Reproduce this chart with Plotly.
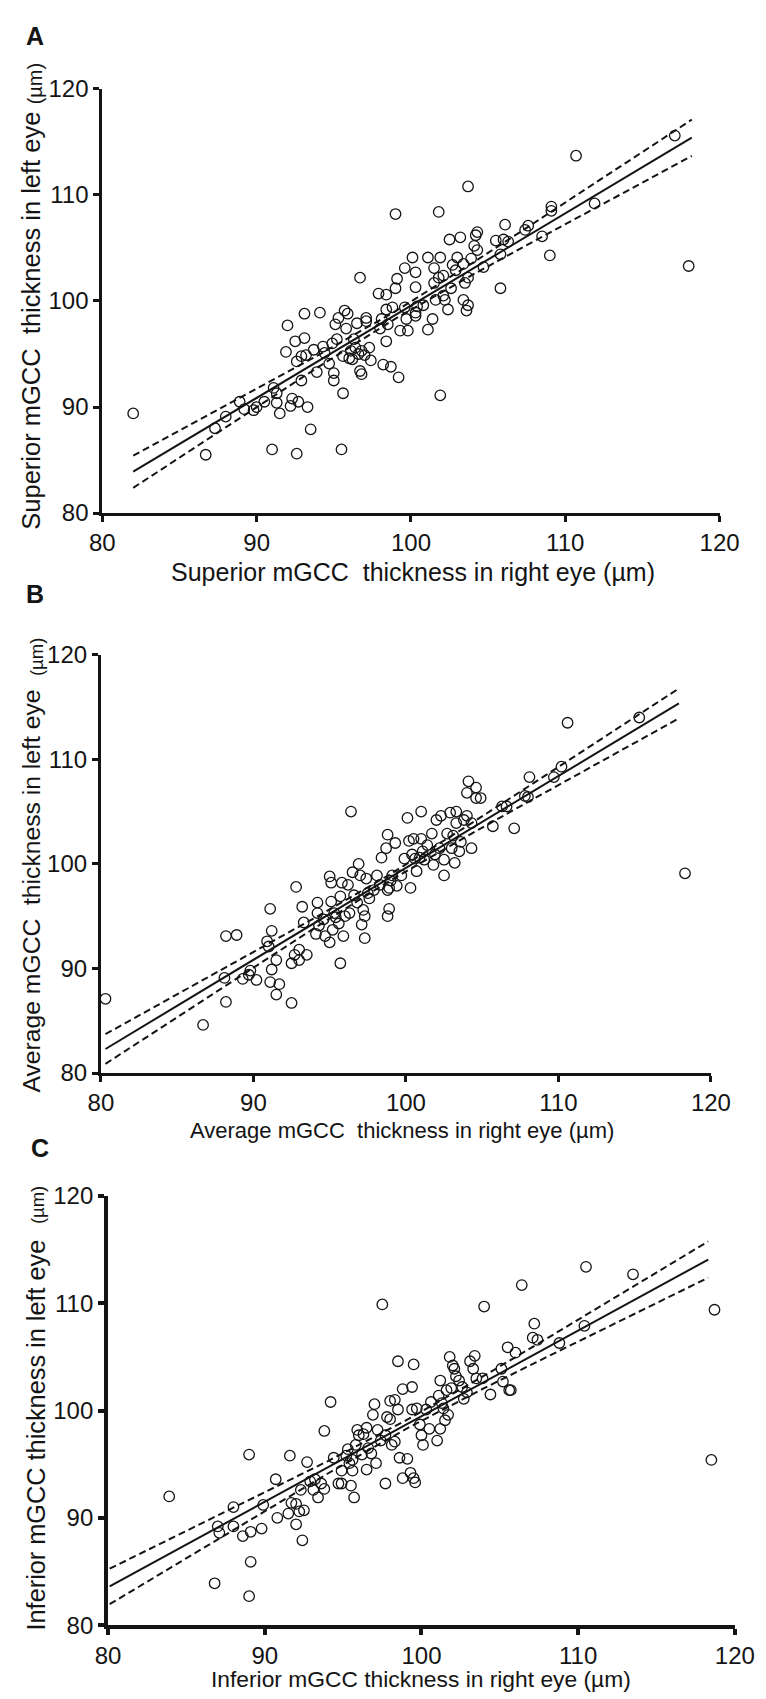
import plotly.graph_objects as go

# ---------------- data ----------------
# Panel A: Superior mGCC
a_right = [82.0, 86.7, 87.3, 88.0, 88.9, 89.2, 89.8, 90.0, 90.5, 91.1, 91.3, 91.3, 91.5, 91.0, 91.9, 92.0,
           92.2, 92.3, 92.6, 92.5, 92.6, 92.7, 92.9, 93.1, 93.1, 92.9, 93.2, 93.3, 93.5, 93.7, 93.9, 94.1,
           94.3, 94.4, 94.7, 95.0, 95.0, 94.9, 95.1, 95.2, 95.3, 95.5, 95.6, 95.6, 95.7, 95.8, 95.9, 96.1,
           96.2, 96.3, 96.5, 96.7, 96.7, 96.8, 96.8, 97.1, 97.1, 97.3, 97.4, 97.9, 98.0, 98.1, 98.2, 98.4,
           98.4, 98.4, 98.5, 98.7, 98.8, 99.0, 99.0, 99.1, 99.2, 99.3, 99.6, 99.6, 99.7, 99.8, 100.1, 100.3,
           100.3, 100.3, 100.4, 101.1, 101.1, 101.4, 101.5, 101.5, 101.6, 101.8, 101.9, 101.9, 101.8, 102.1,
           102.1, 102.2, 102.4, 102.5, 102.6, 102.7, 102.9, 103.0, 103.2, 103.4, 103.4, 103.5, 103.6, 103.7,
           103.7, 103.7, 103.9, 104.1, 104.2, 104.3, 104.3, 104.7, 105.5, 105.8, 105.8, 106.0, 106.1, 106.3,
           107.4, 107.6, 108.5, 109.0, 109.1, 109.1, 110.7, 111.9, 117.1, 118.0, 96.0, 96.6, 97.0, 96.4,
           100.3, 100.8]
a_left = [89.4, 85.5, 88.0, 89.1, 90.5, 89.8, 89.7, 90.0, 90.5, 91.8, 90.4, 91.3, 89.4, 86.0, 95.2, 97.7,
          90.1, 90.8, 85.6, 96.2, 94.3, 90.5, 92.5, 98.8, 96.5, 94.8, 94.9, 90.0, 87.9, 95.4, 93.3, 98.9,
          95.7, 95.1, 94.1, 93.2, 92.5, 96.0, 97.8, 96.4, 98.4, 86.0, 91.3, 94.8, 99.1, 97.4, 98.8, 95.3,
          94.5, 96.4, 97.9, 102.2, 93.4, 95.3, 93.1, 98.1, 98.4, 95.6, 94.4, 100.7, 97.4, 98.3, 94.0, 100.6,
          96.2, 99.2, 97.8, 93.8, 99.4, 108.2, 101.2, 102.1, 92.8, 97.2, 103.1, 99.4, 98.3, 97.2, 104.1, 101.3,
          102.7, 98.9, 99.5, 104.1, 97.3, 98.3, 101.7, 103.1, 100.1, 108.4, 91.1, 104.1, 102.2, 102.4,
          100.5, 100.1, 99.2, 105.8, 101.2, 103.4, 102.9, 104.1, 106.0, 103.5, 100.1, 101.7, 99.1, 110.8,
          102.2, 99.6, 104.0, 105.2, 106.2, 104.8, 106.5, 103.2, 105.7, 104.4, 101.2, 105.8, 107.2, 105.6,
          106.7, 107.1, 106.1, 104.3, 108.9, 108.5, 113.7, 109.2, 115.6, 103.3, 94.6, 95.0, 94.9, 95.6,
          98.6, 99.6]
a_fit_x = [82.0, 118.2]
a_fit_y = [83.9, 115.4]
a_ci_x = [82, 86, 90, 94, 99, 104, 108, 113, 118.2]
a_ci_up = [85.42, 88.56, 91.72, 94.90, 99.04, 103.60, 107.38, 112.14, 117.10]
a_ci_lo = [82.38, 86.20, 90.00, 93.78, 98.34, 102.48, 105.66, 109.60, 113.68]

# Panel B: Average mGCC
b_right = [80.3, 86.7, 88.1, 88.2, 88.2, 88.9, 89.3, 89.7, 89.8, 90.2, 90.9, 91.0, 91.1, 91.1, 91.2, 91.2,
           91.5, 91.5, 91.7, 92.5, 92.5, 92.7, 92.8, 93.0, 93.0, 93.2, 93.3, 93.5, 94.1, 94.2, 94.2, 94.3,
           94.7, 95.0, 95.0, 95.1, 95.1, 95.2, 95.3, 95.6, 95.7, 95.7, 95.8, 95.9, 96.0, 96.2, 96.3, 96.4,
           96.5, 96.6, 96.9, 97.0, 97.1, 97.2, 97.3, 97.3, 97.4, 97.6, 97.9, 98.1, 98.4, 98.7, 98.8, 98.8,
           98.8, 98.9, 98.9, 99.1, 99.3, 99.4, 99.7, 99.9, 100.1, 100.2, 100.3, 100.4, 100.5, 100.6, 100.7,
           101.0, 101.0, 101.1, 101.2, 101.4, 101.7, 101.8, 101.9, 102.0, 102.2, 102.3, 102.5, 102.5, 102.7,
           102.9, 103.0, 103.1, 103.2, 103.3, 103.3, 103.5, 103.6, 103.8, 104.0, 104.1, 104.0, 104.3, 104.3,
           104.6, 104.6, 104.9, 105.7, 106.3, 106.6, 107.1, 107.8, 108.0, 108.1, 109.7, 110.2, 110.6, 115.3,
           118.3, 96.8, 97.5, 98.3, 99.0, 100.9, 95.4, 94.6]
b_left = [87.1, 84.6, 89.1, 86.8, 93.1, 93.2, 89.0, 89.4, 89.8, 88.9, 92.6, 92.1, 88.7, 95.7, 93.6, 89.9,
          90.8, 87.5, 88.5, 90.5, 86.7, 91.3, 97.8, 90.8, 91.8, 95.9, 94.4, 91.3, 93.3, 96.3, 95.3, 94.1,
          93.1, 92.5, 98.8, 98.2, 96.4, 93.7, 95.3, 94.3, 90.5, 96.9, 98.2, 93.1, 95.0, 98.0, 95.3, 105.0,
          99.2, 97.0, 100.0, 98.9, 94.2, 95.6, 92.9, 95.0, 98.6, 96.7, 97.5, 98.9, 100.6, 101.5, 102.8, 97.5,
          95.0, 95.7, 97.7, 98.9, 102.0, 97.9, 98.9, 100.5, 104.4, 102.2, 97.7, 100.9, 102.4, 100.5, 99.3,
          102.4, 105.0, 101.2, 100.4, 101.8, 102.9, 99.9, 100.9, 104.2, 101.5, 104.6, 100.4, 98.9, 102.9,
          104.9, 101.5, 102.7, 100.1, 105.0, 103.9, 101.2, 102.1, 104.2, 104.6, 107.9, 106.8, 101.5, 103.9,
          107.3, 106.3, 106.3, 103.6, 105.5, 105.5, 103.4, 106.5, 106.4, 108.3, 108.3, 109.3, 113.5, 114.0,
          99.1, 96.3, 97.2, 98.0, 98.4, 100.6, 94.9, 94.7]
b_fit_x = [80.3, 117.9]
b_fit_y = [82.3, 115.35]
b_ci_x = [80.3, 85, 90, 94, 99, 104, 108, 113, 117.9]
b_ci_up = [83.72, 87.51, 91.56, 94.82, 99.04, 103.61, 107.38, 112.12, 116.78]
b_ci_lo = [80.88, 85.35, 90.10, 93.86, 98.44, 102.65, 105.92, 109.96, 113.92]

# Panel C: Inferior mGCC
c_right = [83.9, 86.8, 87.0, 87.1, 88.0, 88.0, 88.6, 89.0, 89.0, 89.1, 89.1, 89.8, 89.9, 90.7, 90.8, 91.5,
           91.6, 91.7, 92.0, 92.0, 92.2, 92.3, 92.4, 92.5, 92.7, 92.9, 93.1, 93.2, 93.4, 93.6, 93.8, 93.8,
           94.2, 94.4, 94.7, 94.9, 94.9, 95.3, 95.4, 95.5, 95.6, 95.6, 95.7, 95.8, 95.9, 96.0, 96.2, 96.3,
           96.5, 96.5, 96.8, 96.9, 97.0, 97.1, 97.2, 97.5, 97.7, 97.7, 97.8, 98.0, 98.0, 98.1, 98.3, 98.3,
           98.5, 98.5, 98.6, 98.8, 98.8, 99.1, 99.3, 99.4, 99.4, 99.5, 99.5, 99.6, 99.7, 99.9, 100.0, 100.1,
           100.3, 100.5, 100.6, 101.0, 101.1, 101.2, 101.2, 101.4, 101.5, 101.6, 101.7, 101.8, 101.9, 102.0,
           102.1, 102.2, 102.4, 102.6, 102.7, 102.9, 103.1, 103.3, 103.4, 103.5, 103.9, 104.0, 104.4, 105.1,
           105.2, 105.5, 105.6, 105.7, 106.0, 106.4, 107.1, 107.2, 107.4, 108.8, 110.4, 110.5, 113.5, 118.5,
           118.7, 95.2, 96.6, 97.4, 101.3]
c_left = [92.0, 83.9, 89.2, 88.6, 91.0, 89.2, 88.3, 95.9, 82.7, 85.9, 88.7, 89.0, 91.2, 93.6, 90.0, 90.4,
          95.8, 91.4, 89.4, 91.3, 90.6, 92.6, 87.9, 90.7, 95.2, 93.4, 92.6, 93.6, 91.9, 93.2, 98.1, 92.7,
          100.8, 95.6, 93.2, 94.4, 93.2, 96.4, 95.1, 93.0, 94.4, 95.4, 91.9, 96.8, 98.2, 97.7, 95.9, 97.8,
          94.5, 98.4, 96.0, 99.6, 100.6, 95.1, 98.2, 109.9, 97.7, 93.2, 99.4, 99.2, 100.9, 96.8, 97.1, 101.0,
          100.1, 104.6, 95.6, 102.0, 93.7, 95.5, 94.2, 100.1, 102.2, 104.3, 93.7, 93.3, 100.2, 98.7, 97.7, 96.8,
          100.1, 98.3, 100.8, 97.2, 101.4, 102.8, 98.3, 100.2, 99.1, 101.9, 99.6, 105.0, 102.1, 104.2,
          103.9, 103.2, 102.8, 102.2, 101.1, 101.7, 104.6, 103.9, 105.1, 103.0, 103.0, 109.7, 101.5, 103.9,
          102.7, 105.9, 101.9, 101.9, 105.4, 111.7, 106.8, 108.1, 106.6, 106.3, 107.9, 113.4, 112.7, 95.4,
          109.4, 95.8, 96.5, 97.2, 100.7]
c_fit_x = [80.1, 118.3]
c_fit_y = [83.6, 114.08]
c_ci_x = [80.1, 85, 90, 94, 99, 104, 108, 113, 118.3]
c_ci_up = [85.26, 88.77, 92.36, 95.27, 99.08, 103.25, 106.72, 111.11, 115.77]
c_ci_lo = [81.95, 86.26, 90.64, 94.11, 98.28, 102.09, 105.00, 108.60, 112.39]

tick_vals = [80, 90, 100, 110, 120]
tick_text = ["80", "90", "100", "110", "120"]

# ---------------- figure ----------------
W, H = 766, 1699
FONT = "Liberation Sans, Arial, Helvetica, sans-serif"
INK = "#141414"

fig = go.Figure()

panels = [
    (a_right, a_left, a_fit_x, a_fit_y, a_ci_x, a_ci_up, a_ci_lo, ""),
    (b_right, b_left, b_fit_x, b_fit_y, b_ci_x, b_ci_up, b_ci_lo, "2"),
    (c_right, c_left, c_fit_x, c_fit_y, c_ci_x, c_ci_up, c_ci_lo, "3"),
]

for xs, ys, fx, fy, cx, cu, cl, s in panels:
    xa, ya = "x" + s, "y" + s
    for band in (cu, cl):
        fig.add_trace(go.Scatter(x=cx, y=band, mode="lines", xaxis=xa, yaxis=ya,
                                 line=dict(color=INK, width=2, dash="7px,4px"), hoverinfo="skip"))
    fig.add_trace(go.Scatter(x=fx, y=fy, mode="lines", xaxis=xa, yaxis=ya,
                             line=dict(color=INK, width=2), hoverinfo="skip"))
    fig.add_trace(go.Scatter(x=xs, y=ys, mode="markers", xaxis=xa, yaxis=ya,
                             marker=dict(symbol="circle-open", size=10.5, color=INK,
                                         line=dict(width=1.3, color=INK))))

# plot areas in pixels: (left, right, top, bottom, axis line width)
boxes = [(85, 730, 68, 499, 3), (83.5, 721, 643, 1068, 3), (91, 746, 1193, 1629, 4)]

layout = dict(width=W, height=H, autosize=False, showlegend=False,
              margin=dict(l=0, r=0, t=0, b=0, pad=0),
              paper_bgcolor="white", plot_bgcolor="white",
              font=dict(family=FONT, color=INK))

for i, (l, r, t, b, lw) in enumerate(boxes):
    s = "" if i == 0 else str(i + 1)
    common = dict(range=[80, 120], tickmode="array", tickvals=tick_vals, ticktext=tick_text,
                  showgrid=False, zeroline=False, showline=True, linecolor=INK, linewidth=lw,
                  ticks="outside", ticklen=6, tickwidth=lw, tickcolor=INK,
                  tickfont=dict(family=FONT, size=24, color=INK), fixedrange=True)
    layout["xaxis" + s] = dict(common, domain=[l / W, r / W], anchor="y" + s)
    layout["yaxis" + s] = dict(common, domain=[1 - b / H, 1 - t / H], anchor="x" + s)

fig.update_layout(**layout)

texts = [
    # text, x px, y px, size, bold, angle
    ("A", 15, 14, 25, True, 0),
    ("B", 15, 581, 25, True, 0),
    ("C", 20, 1144, 25, True, 0),
    ("Superior mGCC \u00a0thickness in left eye", 11, 304, 25.5, False, -90),
    ("(µm)", 15, 62, 20, False, -90),
    ("Superior mGCC \u00a0thickness in right eye (µm)", 410, 559, 25, False, 0),
    ("Average mGCC \u00a0thickness in left eye", 11, 883, 24.7, False, -90),
    ("(µm)", 16, 645, 18.5, False, -90),
    ("Average mGCC \u00a0thickness in right eye (µm)", 398, 1126, 22, False, 0),
    ("Inferior mGCC thickness in left eye", 16, 1436, 25.3, False, -90),
    ("(µm)", 18, 1202, 18.5, False, -90),
    ("Inferior mGCC thickness in right eye (µm)", 418, 1684, 22.8, False, 0),
]
for txt, px, py, size, bold, ang in texts:
    fig.add_annotation(text=("<b>%s</b>" % txt) if bold else txt,
                       xref="paper", yref="paper", x=px / W, y=1 - py / H,
                       xanchor="center", yanchor="middle", showarrow=False, textangle=ang,
                       font=dict(family=FONT, size=size, color=INK))

fig.write_html("out.html")
